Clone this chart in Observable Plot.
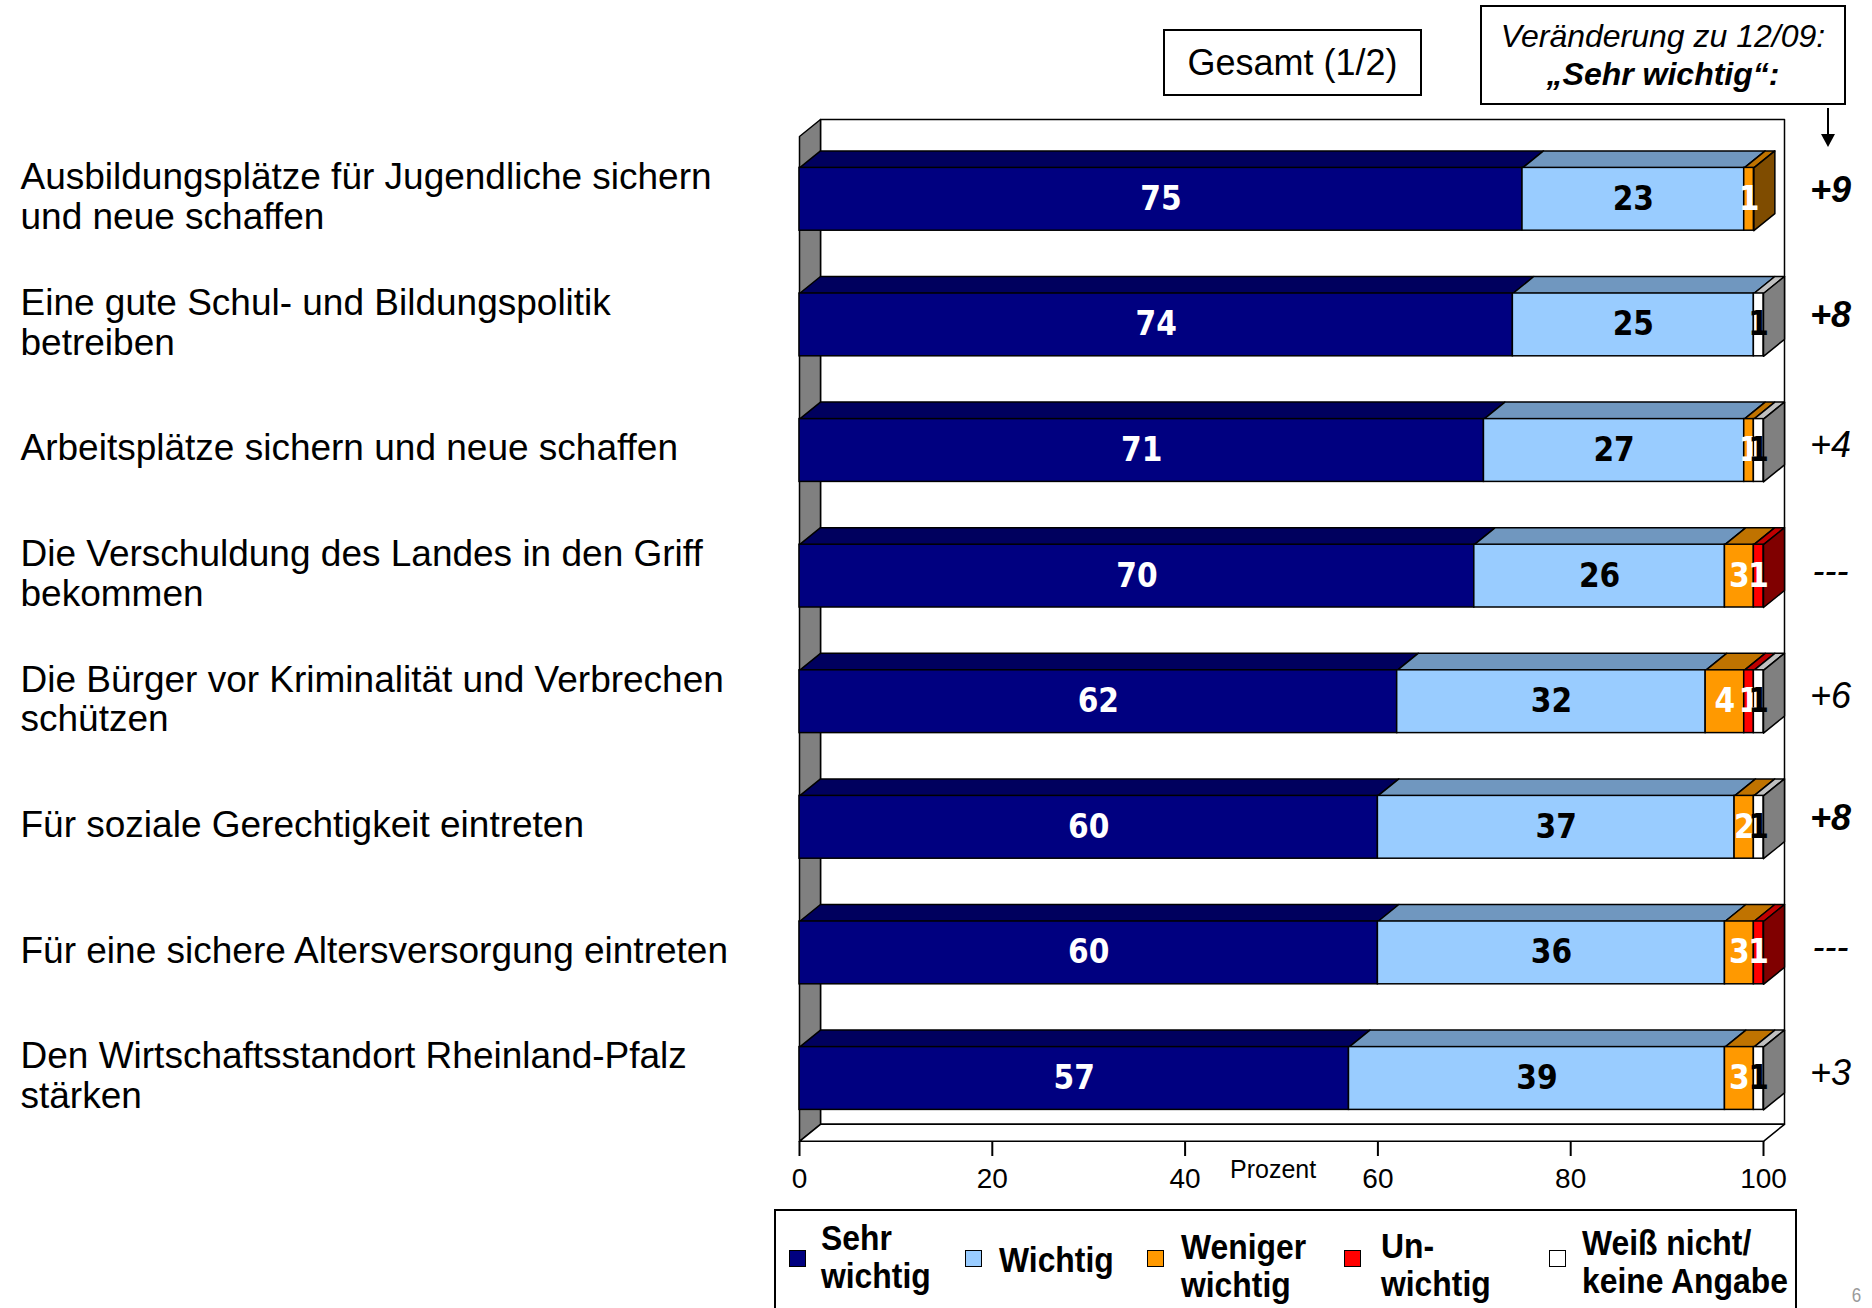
<!DOCTYPE html>
<html>
<head>
<meta charset="utf-8">
<script src="https://cdn.jsdelivr.net/npm/d3@7"></script>
<script src="https://cdn.jsdelivr.net/npm/@observablehq/plot@0.6"></script>
<style>
  html, body { margin: 0; padding: 0; background: #fff; }
  body { width: 1872px; height: 1308px; overflow: hidden; position: relative;
         font-family: "Liberation Sans", Arial, sans-serif; color: #000; }
  #chart { position: absolute; left: 0; top: 0; }
  .box { position: absolute; border: 2px solid #000; box-sizing: border-box; background: #fff;
         display: flex; flex-direction: column; align-items: center; justify-content: center; text-align: center; }
  .leg-sq { position: absolute; width: 17px; height: 17px; border: 1px solid #000; box-sizing: border-box; }
  .leg-tx { position: absolute; white-space: pre; font-weight: bold; font-size: 35px; line-height: 38px;
            font-family: "Liberation Sans", Arial, sans-serif;
            transform-origin: left center; transform: translateY(-50%) scaleX(0.91); }
</style>
</head>
<body>
<div id="chart"></div>
<div class="box" style="left:1163px; top:29px; width:259px; height:67px; font-size:36px;">Gesamt (1/2)</div>
<div class="box" style="left:1480px; top:5px; width:366px; height:100px; font-size:32px; line-height:38px;">
  <div style="font-style:italic;">Veränderung zu 12/09:</div>
  <div style="font-style:italic; font-weight:bold;">„Sehr wichtig“:</div>
</div>
<svg style="position:absolute; left:1816px; top:104px;" width="24" height="46">
  <line x1="12" y1="4" x2="12" y2="32" stroke="#000" stroke-width="2"/>
  <polygon points="5,30 19,30 12,43" fill="#000"/>
</svg>
<div style="position:absolute; left:1230px; top:1154px; font-size:25px; line-height:30px;">Prozent</div>
<div id="legend" style="position:absolute; left:774px; top:1209px; width:1023px; height:140px; border:2px solid #000; box-sizing:border-box;"></div>
<div style="position:absolute; left:1851px; top:1284px; font-size:20px; color:#9a9a9a; transform:scaleX(0.85);">6</div>
<script>
// ---------------- data ----------------
const categories = [
  "Ausbildungsplätze für Jugendliche sichern\nund neue schaffen",
  "Eine gute Schul- und Bildungspolitik\nbetreiben",
  "Arbeitsplätze sichern und neue schaffen",
  "Die Verschuldung des Landes in den Griff\nbekommen",
  "Die Bürger vor Kriminalität und Verbrechen\nschützen",
  "Für soziale Gerechtigkeit eintreten",
  "Für eine sichere Altersversorgung eintreten",
  "Den Wirtschaftsstandort Rheinland-Pfalz\nstärken"
];
const sehrWichtig    = [75, 74, 71, 70, 62, 60, 60, 57];
const wichtig        = [23, 25, 27, 26, 32, 37, 36, 39];
const wenigerWichtig = [ 1,  0,  1,  3,  4,  2,  3,  3];
const unwichtig      = [ 0,  0,  0,  1,  1,  0,  1,  0];
const weissNicht     = [ 0,  1,  1,  0,  1,  1,  0,  1];
const seriesNames = ["Sehr\nwichtig", "Wichtig", "Weniger\nwichtig", "Un-\nwichtig", "Weiß nicht/\nkeine Angabe"];
const changeLabels = ["+9", "+8", "+4", "---", "+6", "+8", "---", "+3"];
const changeBold   = [true, true, false, false, false, true, false, false];
const xTicks = [0, 20, 40, 60, 80, 100];

// ---------------- style ----------------
const frontColors = ["#000080", "#99CCFF", "#FF9900", "#FF0000", "#FFFFFF"];
const topColors   = ["#00005E", "#7097BF", "#C07300", "#BF0000", "#C0C0C0"];
const sideColors  = ["#000040", "#4C6680", "#7F4C00", "#800000", "#808080"];
const labelColors = ["white", "black", "white", "white", "black"];
const narrowFont = "'Liberation Sans Narrow', 'Arial Narrow', 'DejaVu Sans Condensed', sans-serif";

// ---------------- geometry ----------------
const W = 1872, Hgt = 1308;
const xLeft = 799, xRight = 1763;
const pxPerX = (xRight - xLeft) / 100;
const yFirst = 198.8, step = 125.6;
const DX = 21 / pxPerX;      // depth offset in x units
const DY = 17 / step;        // depth offset in band units
const HB = 0.25;             // half bar thickness (band units)
const yMin = -0.5, yMax = categories.length - 0.5;

const series = [sehrWichtig, wichtig, wenigerWichtig, unwichtig, weissNicht];
const segs = [];
categories.forEach((c, i) => {
  let acc = 0;
  series.forEach((vals, s) => {
    const v = vals[i];
    if (v > 0) { segs.push({i, s, x0: acc, x1: acc + v, v}); acc += v; }
  });
});

let fid = 0;
function poly(arr, fill, pts) { const id = fid++; for (const [x, y] of pts) arr.push({id, fill, x, y}); }

const walls = [];
poly(walls, "#FFFFFF", [[DX, yMin - DY], [100 + DX, yMin - DY], [100 + DX, yMax - DY], [DX, yMax - DY]]);
poly(walls, "#808080", [[0, yMin], [DX, yMin - DY], [DX, yMax - DY], [0, yMax]]);
poly(walls, "#FFFFFF", [[0, yMax], [100, yMax], [100 + DX, yMax - DY], [DX, yMax - DY]]);

const faces = [];
categories.forEach((c, i) => {
  const bs = segs.filter(d => d.i === i);
  bs.forEach(d => {
    poly(faces, topColors[d.s], [[d.x0, i - HB], [d.x1, i - HB], [d.x1 + DX, i - HB - DY], [d.x0 + DX, i - HB - DY]]);
  });
  const last = bs[bs.length - 1];
  poly(faces, sideColors[last.s], [[last.x1, i - HB], [last.x1 + DX, i - HB - DY], [last.x1 + DX, i + HB - DY], [last.x1, i + HB]]);
});

const changes = changeLabels.map((t, i) => ({t, i, bold: changeBold[i]}));

const chart = Plot.plot({
  width: W,
  height: Hgt,
  marginLeft: xLeft,
  marginRight: W - xRight,
  marginTop: 0,
  marginBottom: Hgt - 1141,
  style: {fontFamily: "'Liberation Sans', Arial, sans-serif", fontSize: "28px", color: "black", background: "white", overflow: "visible"},
  x: {domain: [0, 100], axis: null},
  y: {domain: [0, categories.length - 1], range: [yFirst, yFirst + step * (categories.length - 1)], axis: null},
  color: {type: "identity"},
  marks: [
    Plot.line(walls, {x: "x", y: "y", z: "id", fill: "fill", stroke: "black", strokeWidth: 1.5, curve: "linear-closed"}),
    Plot.line(faces, {x: "x", y: "y", z: "id", fill: "fill", stroke: "black", strokeWidth: 1.5, curve: "linear-closed"}),
    Plot.rect(segs, {x1: "x0", x2: "x1", y1: d => d.i - HB, y2: d => d.i + HB, fill: d => frontColors[d.s], stroke: "black", strokeWidth: 1.5}),
    Plot.text(segs, {x: d => (d.x0 + d.x1) / 2, y: "i", text: d => String(d.v), fill: d => labelColors[d.s],
      fontSize: 33, fontWeight: "bold", fontFamily: narrowFont}),
    Plot.axisX({ticks: xTicks, tickSize: 15, tickPadding: 12, fontSize: 28, strokeWidth: 2, label: null, tickFormat: d => String(d)}),
    Plot.text(categories, {y: (d, i) => i, text: d => d, frameAnchor: "left", dx: 20 - xLeft, dy: -3,
      textAnchor: "start", fontSize: 37, lineHeight: 1.08, fill: "black"}),
    Plot.text(changes.filter(d => d.bold),
      {y: "i", text: "t", frameAnchor: "right", dx: 67, dy: -9, textAnchor: "middle", fontSize: 36, fontWeight: "bold", fontStyle: "italic", fill: "black"}),
    Plot.text(changes.filter(d => !d.bold),
      {y: "i", text: "t", frameAnchor: "right", dx: 67, dy: -5, textAnchor: "middle", fontSize: 36, fontStyle: "italic", fill: "black"})
  ]
});
document.getElementById("chart").appendChild(chart);

// legend
const legSqX = [789, 965, 1147, 1344, 1549];
const legTxX = [821, 999, 1181, 1381, 1582];
const legTxY = [1257, 1260, 1266, 1265, 1262];
seriesNames.forEach((name, k) => {
  const sq = document.createElement("div");
  sq.className = "leg-sq";
  sq.style.left = legSqX[k] + "px";
  sq.style.top = (1258 - 8) + "px";
  sq.style.background = frontColors[k];
  document.body.appendChild(sq);
  const tx = document.createElement("div");
  tx.className = "leg-tx";
  tx.style.left = legTxX[k] + "px";
  tx.style.top = legTxY[k] + "px";
  tx.textContent = name;
  document.body.appendChild(tx);
});
</script>
</body>
</html>
